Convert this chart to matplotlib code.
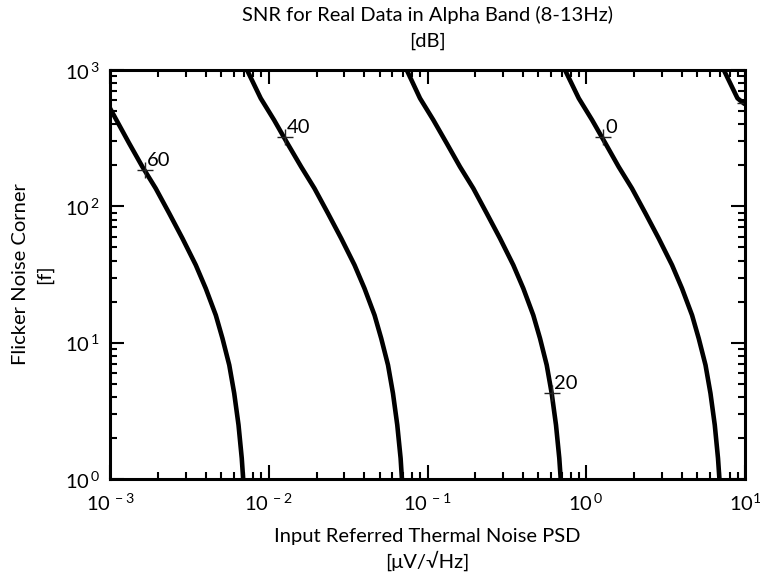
import numpy as np
import matplotlib
matplotlib.use("Agg")
import matplotlib.pyplot as plt
from matplotlib.ticker import LogLocator, NullFormatter, FixedLocator, FixedFormatter

# contour levels of the SNR map [dB]
levels = [60, 40, 20, 0, -20]

# thermal noise PSD (x) and flicker corner (y) along each contour
y_full = [1000, 620, 430, 290, 195, 135.5, 88.9, 58.2, 37.1, 25.0, 15.9, 10.75, 6.85, 4.25, 2.49, 1.42, 1.0]

x_60 = [1.0e-3, 1.32e-3, 1.60e-3, 1.94e-3, 2.36e-3, 2.86e-3, 3.47e-3, 4.01e-3, 4.64e-3, 5.11e-3, 5.64e-3, 6.06e-3, 6.45e-3, 6.76e-3, 6.90e-3]
y_60 = [524, 290, 195, 135.5, 88.9, 58.2, 37.1, 25.0, 15.9, 10.75, 6.85, 4.25, 2.49, 1.42, 1.0]

x_40 = [0.0073, 0.0089, 0.0108, 0.0131, 0.0160, 0.0194, 0.0236, 0.0286, 0.0347, 0.0401, 0.0464, 0.0511, 0.0564, 0.0606, 0.0645, 0.0677, 0.0690]
x_20 = [0.0740, 0.0897, 0.1088, 0.1321, 0.1602, 0.1943, 0.2360, 0.2862, 0.3471, 0.4014, 0.4639, 0.5114, 0.5636, 0.6058, 0.6448, 0.6764, 0.6904]
x_0 = [0.735, 0.897, 1.088, 1.32, 1.60, 1.94, 2.36, 2.86, 3.47, 4.01, 4.64, 5.11, 5.64, 6.06, 6.45, 6.76, 6.90]

x_m20 = [7.35, 8.97, 10.0]
y_m20 = [1000, 620, 560]

# contour label positions (the -20 label sits outside the right edge)
label_x = [1.66e-3, 1.265e-2, 0.605, 1.275, 10.0]
label_y = [185, 322, 4.25, 322, 570]

curves = [(x_60, y_60), (x_40, y_full), (x_20, y_full), (x_0, y_full), (x_m20, y_m20)]

plt.rcParams['font.family'] = ['Lato', 'DejaVu Sans']
plt.rcParams['mathtext.fontset'] = 'custom'
plt.rcParams['mathtext.rm'] = 'Lato'

fs = 14.5

fig = plt.figure(figsize=(7.6, 5.78), dpi=100, facecolor="white")
ax = fig.add_axes([110/760, 1-479/578, 635/760, 409/578])

for xs, ys in curves:
    ax.plot(xs, ys, color='black', linewidth=3.3, solid_capstyle='butt', solid_joinstyle='round')

ax.set_xscale('log')
ax.set_yscale('log')
ax.set_xlim(1e-3, 1e1)
ax.set_ylim(1e0, 1e3)

for lv, lx, ly in zip(levels, label_x, label_y):
    ax.plot(lx, ly, marker='+', markersize=11, markeredgewidth=1.0, color='#222222')
    if lx < ax.get_xlim()[1]:
        ax.annotate(str(lv), (lx, ly), xytext=(1.5, 1.0), textcoords='offset points',
                    ha='left', va='bottom', fontsize=fs)

xt = [1e-3, 1e-2, 1e-1, 1e0, 1e1]
ax.xaxis.set_major_locator(FixedLocator(xt))
ax.xaxis.set_major_formatter(FixedFormatter([r'$10^{\,-3}$', r'$10^{\,-2}$', r'$10^{\,-1}$', r'$10^{\,0}$', r'$10^{1}$']))
yt = [1e0, 1e1, 1e2, 1e3]
ax.yaxis.set_major_locator(FixedLocator(yt))
ax.yaxis.set_major_formatter(FixedFormatter([r'$10^{\,0}$', r'$10^{\,1}$', r'$10^{\,2}$', r'$10^{\,3}$']))
for axis in (ax.xaxis, ax.yaxis):
    axis.set_minor_locator(LogLocator(base=10, subs=np.arange(2, 10), numticks=20))
    axis.set_minor_formatter(NullFormatter())

ax.tick_params(which='both', direction='in', top=True, right=True, width=1.5, labelsize=fs)
ax.tick_params(which='major', length=10)
ax.tick_params(axis='x', which='major', pad=9)
ax.tick_params(axis='y', which='major', pad=7)
ax.tick_params(which='minor', length=5)
for s in ax.spines.values():
    s.set_linewidth(2.2)

ax.set_title("SNR for Real Data in Alpha Band (8-13Hz)\n[dB]", fontsize=fs, pad=17, linespacing=1.6)
ax.set_xlabel("Input Referred Thermal Noise PSD\n[\u03bcV/\u221aHz]", fontsize=fs, labelpad=10.5, linespacing=1.35)
ax.set_ylabel("Flicker Noise Corner\n[f]", fontsize=fs, labelpad=8, linespacing=1.5)

fig.savefig("out.png", dpi=100, facecolor="white")
